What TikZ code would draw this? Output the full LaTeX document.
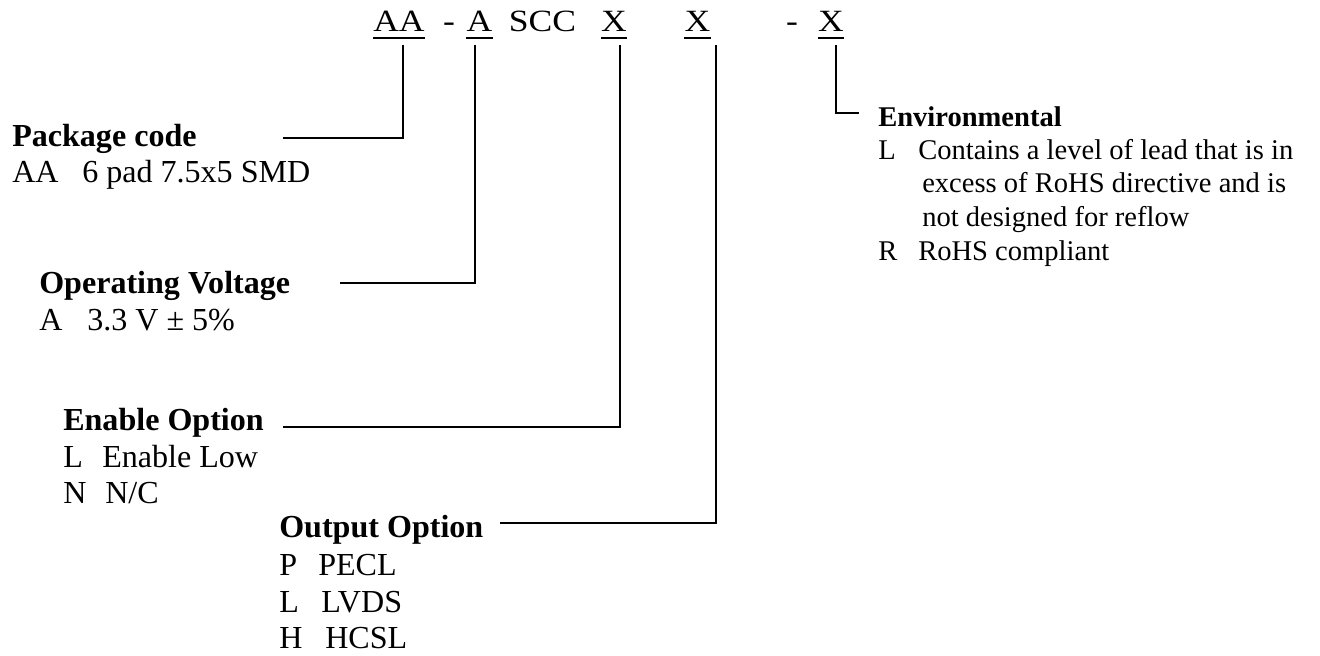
\documentclass[tikz,border=0pt]{standalone}
\usepackage{graphicx}
\usepackage{fontspec}
\setmainfont{Liberation Serif}

\tikzset{
  code/.style={anchor=base, inner sep=0pt, font=\fontsize{22}{26}\selectfont},
  head/.style={anchor=base west, inner sep=0pt, font=\fontsize{22.8}{27}\selectfont\bfseries},
  entry/.style={anchor=base west, inner sep=0pt, font=\fontsize{22.8}{27}\selectfont},
  envhead/.style={head, font=\fontsize{20.3}{24}\selectfont\bfseries},
  enventry/.style={entry, font=\fontsize{20.3}{24}\selectfont},
  leader/.style={line width=1.4pt},
}
\newcommand{\wide}[1]{\scalebox{1.15}[1]{#1}}
\newcommand{\opt}[3]{\makebox[#1][l]{#2}#3}

\begin{document}
\begin{tikzpicture}[x=0.025cm,y=-0.025cm]
\useasboundingbox (0,0) rectangle (1320,656);

% Part number (top)
\node[code] (pAA)   at (399,32)   {\wide{AA}};
\node[code] (dash1) at (449,32)   {\wide{-}};
\node[code] (pA)    at (479.5,32) {\wide{A}};
\node[code] (pSCC)  at (542.5,32) {\wide{SCC}};
\node[code] (pX1)   at (614,32)   {\wide{X}};
\node[code] (pX2)   at (697.5,32) {\wide{X}};
\node[code] (dash2) at (792,32)   {\wide{-}};
\node[code] (pX3)   at (831,32)   {\wide{X}};

% Underlines
\foreach \p in {pAA,pA,pX1,pX2,pX3}
  \draw[leader] ([yshift=-0.15cm]\p.base west) -- ([yshift=-0.15cm]\p.base east);

% Package code
\node[head]  (pkg)  at (12,147) {Package code};
\node[entry] (pkg1) at (12,183) {\opt{17.5mm}{AA}{6 pad 7.5x5 SMD}};
\coordinate (AAdrop) at (403,45);
\coordinate (pkgEnd) at (283,138);
\draw[leader] (AAdrop) |- (pkgEnd);

% Operating voltage
\node[head]  (volt)  at (39,293) {Operating Voltage};
\node[entry] (volt1) at (39,330) {\opt{12mm}{A}{3.3 V ± 5\%}};
\coordinate (Adrop) at (475,45);
\coordinate (voltEnd) at (340,283);
\draw[leader] (Adrop) |- (voltEnd);

% Enable option
\node[head]  (en)  at (63,430) {Enable Option};
\node[entry] (en1) at (63,467) {\opt{9.75mm}{L}{Enable Low}};
\node[entry] (en2) at (63,503) {\opt{10.5mm}{N}{N/C}};
\coordinate (X1drop) at (620,45);
\coordinate (enEnd) at (283,427);
\draw[leader] (X1drop) |- (enEnd);

% Output option
\node[head]  (out)  at (279,537) {Output Option};
\node[entry] (out1) at (279,575) {\opt{9.75mm}{P}{PECL}};
\node[entry] (out2) at (279,612) {\opt{10.5mm}{L}{LVDS}};
\node[entry] (out3) at (279,648) {\opt{11.5mm}{H}{HCSL}};
\coordinate (X2drop) at (716,45);
\coordinate (outEnd) at (500,523);
\draw[leader] (X2drop) |- (outEnd);

% Environmental
\node[envhead]  (env)  at (878,127) {Environmental};
\node[enventry] (env1) at (878,160) {\opt{10mm}{L}{Contains a level of lead that is in}};
\node[enventry] (env2) at (922,193) {excess of RoHS directive and is};
\node[enventry] (env3) at (922,226) {not designed for reflow};
\node[enventry] (env4) at (878,260) {\opt{10mm}{R}{RoHS compliant}};
\coordinate (X3drop) at (836,45);
\coordinate (envEnd) at (859,113);
\draw[leader] (X3drop) |- (envEnd);

\end{tikzpicture}
\end{document}
